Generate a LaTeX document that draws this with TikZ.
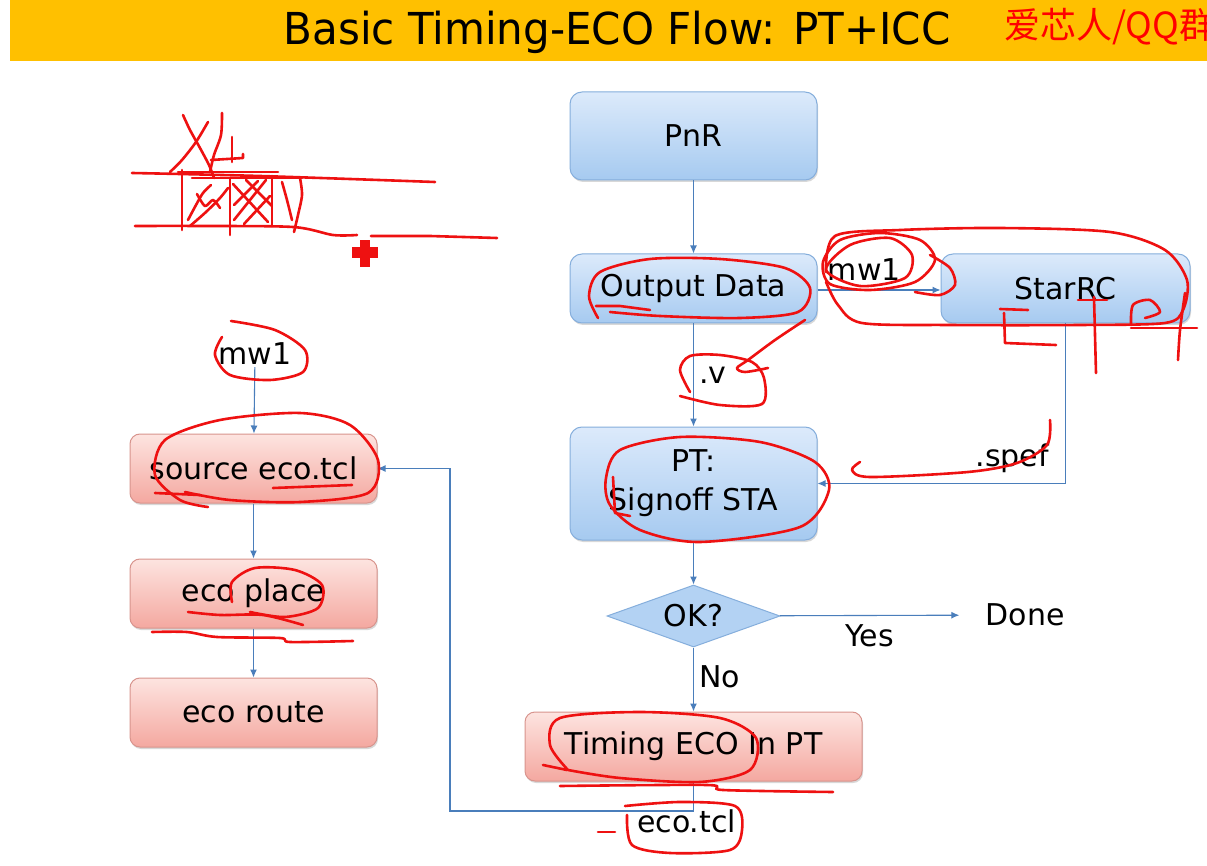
\documentclass[tikz,border=0pt]{standalone}
\usepackage{fontspec}
\setmainfont{DejaVu Sans}
\newfontfamily\cjkfont{Noto Sans CJK SC}
\usetikzlibrary{arrows.meta,shapes.geometric,shadows}
\definecolor{banner}{HTML}{FFC000}
\definecolor{flow}{HTML}{4A7EBB}
\definecolor{bluetop}{HTML}{DCEAFB}
\definecolor{bluebot}{HTML}{A6CAF0}
\definecolor{blueedge}{HTML}{85AEDC}
\definecolor{pinktop}{HTML}{FDE4E0}
\definecolor{pinkbot}{HTML}{F4A8A0}
\definecolor{pinkedge}{HTML}{D8948D}
\definecolor{ink}{HTML}{EE1111}
\begin{document}
\begin{tikzpicture}[x=1pt,y=-1pt,
  every node/.style={font=\fontsize{30}{34}\selectfont, text=black, inner sep=2pt},
  bluebox/.style={draw=blueedge, line width=1pt, rounded corners=12pt,
    top color=bluetop, bottom color=bluebot, minimum width=247pt, inner sep=0pt,
    align=center, drop shadow={shadow xshift=1pt, shadow yshift=-2pt, opacity=0.3}},
  pinkbox/.style={draw=pinkedge, line width=1pt, rounded corners=10pt,
    top color=pinktop, bottom color=pinkbot, minimum width=247pt, minimum height=69pt,
    inner sep=0pt, drop shadow={shadow xshift=1pt, shadow yshift=-2pt, opacity=0.3}},
  decision/.style={diamond, draw=blueedge, line width=1pt, fill=bluebot!75!bluetop,
    minimum width=173pt, minimum height=62pt, aspect=2.8, inner sep=0pt},
  flowline/.style={draw=flow, line width=1.1pt, -{Latex[length=8pt,width=7pt]}},
  scrib/.style={draw=ink, line width=2.6pt, line cap=round, line join=round}
]
\useasboundingbox (0,0) rectangle (1207,866);
\fill[white] (0,0) rectangle (1207,866);
% banner
\fill[banner] (10,0) rectangle (1207,61);
\node (title) at (617,32) {\fontsize{44}{48}\selectfont\scalebox{0.955}[1]{Basic Timing-ECO Flow: PT+ICC}};
\node[anchor=west, text=red, inner sep=0pt] (cn) at (1004,27) {\fontsize{36}{40}\selectfont\cjkfont 爱芯人/QQ群};

% right column
\node[bluebox, minimum height=88pt] (pnr) at (693.5,136) {PnR};
\node[bluebox, minimum height=69pt] (out) at (693.5,288.5) {Output Data};
\node[bluebox, minimum height=69pt, minimum width=249pt] (starrc) at (1065.5,288.5) {StarRC};
\node[bluebox, minimum height=113pt, font=\fontsize{30}{39}\selectfont] (pt) at (693.5,483.5) {PT:\\Signoff STA};
\node[decision] (ok) at (693.5,616) {OK?};
\node[inner xsep=26pt] (done) at (1025,615) {Done};
\node[pinkbox, minimum width=337pt] (teco) at (693.5,746.5) {Timing ECO In PT};

% left column
\node (mwl) at (255,354) {mw1};
\node[pinkbox] (src) at (253.5,468.5) {source eco.tcl};
\node[pinkbox] (place) at (253.5,593.5) {eco place};
\node[pinkbox] (route) at (253.5,712.5) {eco route};
\coordinate (loop) at (450,811);

% connectors
\draw[flowline] (pnr) -- (out);
\draw[flowline] (out) -- node[right=3pt, pos=0.5] {.v} (pt);
\draw[flowline] (out.east |- 0,290) -- node[above=7pt, pos=0.38] {mw1} (starrc.west |- 0,290);
\draw[flowline] (starrc.south) |- node[pos=0.42, left=14pt] {.spef} (pt.east);
\draw[flowline] (pt) -- (ok);
\draw[flowline] (ok) -- node[below=7pt, pos=0.5] {Yes} (done);
\draw[flowline] (ok) -- node[right=3pt, pos=0.45] {No} (teco);
\draw[flowline] (teco.south) |- node[pos=0.5, xshift=-7pt, yshift=-10pt] {eco.tcl} (loop) |- (src.east);
\draw[flowline] (mwl) -- (src);
\draw[flowline] (src) -- (place);
\draw[flowline] (place) -- (route);

% ---------- hand-drawn red annotations ----------
% top-left sketch
\draw[scrib] plot[smooth] coordinates {(132,173)(180,174)(260,176)(350,179)(435,182)};
\draw[scrib] plot[smooth] coordinates {(135,226)(200,226)(293,227)(333,235)(357,235)};
\draw[scrib] (371,236) -- (430,236) -- (497,238);
\draw[scrib] (182,170) -- (182,230);
\draw[scrib] (178,172) -- (278,172);
\draw[scrib] (192,178) -- (302,178);
\draw[scrib] (230,178) -- (230,235);
\draw[scrib] (272,176) -- (272,226);
\draw[scrib] plot[smooth] coordinates {(300,178)(302,195)(298,215)(294,232)};
\draw[scrib] plot[smooth] coordinates {(282,182)(287,200)(292,220)};
\draw[scrib] (233,184) -- (268,222);
\draw[scrib] (266,180) -- (234,220);
\draw[scrib] (246,180) -- (272,206);
\draw[scrib] (234,205) -- (258,181);
\draw[scrib] (244,224) -- (270,196);
\draw[scrib] plot[smooth] coordinates {(188,220)(196,205)(203,193)(211,185)};
\draw[scrib] plot[smooth] coordinates {(190,226)(206,212)(220,198)(228,188)};
\draw[scrib] plot[smooth] coordinates {(197,194)(205,206)(213,200)(220,208)};
\draw[scrib] (192,226) -- (272,226);
\draw[scrib] plot[smooth] coordinates {(183,115)(190,130)(200,148)(209,165)(214,178)};
\draw[scrib] plot[smooth] coordinates {(208,122)(196,142)(182,160)(170,172)};
\draw[scrib] plot[smooth] coordinates {(222,113)(221,135)(214,155)(210,172)};
\draw[scrib] (232,137) -- (232,162);
\draw[scrib] (211,160) -- (243,158) -- (243,154);
\fill[ink] (352,247) rectangle (378,258);
\fill[ink] (360,240) rectangle (370,267);

% Output Data
\draw[scrib] plot[smooth] coordinates {(598,318)(589,296)(600,272)(650,259)(720,259)(785,268)(810,288)(798,312)(740,318)(660,316)(610,312)};
\draw[scrib] (596,306) -- (620,306) -- (650,310);
% mw1 loops and StarRC loop
\draw[scrib] plot[smooth cycle] coordinates {(823,262)(840,240)(880,233)(920,240)(935,260)(915,282)(870,290)(830,284)};
\draw[scrib] plot[smooth cycle] coordinates {(826,270)(850,245)(890,238)(912,255)(905,278)(860,286)};
\draw[scrib] plot[smooth] coordinates {(930,255)(950,268)(955,285)(940,295)(915,292)};
\draw[scrib] plot[smooth] coordinates {(826,272)(835,236)(900,230)(1000,228)(1110,232)(1165,250)(1187,280)(1183,310)(1165,323)(1080,325)(950,325)(862,323)(838,305)(826,282)};
\draw[scrib] (1000,309) -- (1028,310);
\draw[scrib] (1004,313) -- (1005,343) -- (1056,345);
\draw[scrib] (1078,300) -- (1107,300);
\draw[scrib] (1094,297) -- (1096,373);
\draw[scrib] plot[smooth] coordinates {(1131,325)(1133,305)(1150,300)(1160,312)(1145,318)};
\draw[scrib] (1131,328) -- (1197,328);
\draw[scrib] plot[smooth] coordinates {(1185,293)(1180,330)(1178,360)};
% .v box
\draw[scrib] plot[smooth] coordinates {(690,392)(680,370)(690,356)(720,355)(752,362)(764,378)(762,404)(720,405)(680,396)};
\draw[scrib] plot[smooth] coordinates {(805,320)(775,340)(748,360)(737,368)(745,372)(768,368)};
% PT ellipse
\draw[scrib] plot[smooth cycle] coordinates {(606,478)(620,450)(680,437)(760,442)(815,462)(829,490)(800,527)(700,542)(640,530)(610,505)};
\draw[scrib] (613,477) -- (615,513) -- (630,516);
% .spef swoosh
\draw[scrib] plot[smooth] coordinates {(860,462)(852,470)(870,477)(968,472)(1017,463)(1047,445)(1050,420)};
% left mw1
\draw[scrib] plot[smooth] coordinates {(231,321)(275,330)(305,350)(303,372)(270,380)(230,375)(215,355)(222,337)};
% source eco.tcl
\draw[scrib] plot[smooth] coordinates {(208,507)(180,500)(155,475)(165,440)(220,420)(300,413)(350,425)(378,460)(368,493)(300,502)(230,500)(185,492)};
\draw[scrib] (155,493) -- (200,495);
\draw[scrib] (273,488) -- (352,485);
% eco place
\draw[scrib] plot[smooth] coordinates {(232,602)(232,582)(255,568)(295,570)(322,585)(318,608)(285,617)(250,612)};
\draw[scrib] plot[smooth] coordinates {(188,612)(220,615)(263,615)(303,625)};
\draw[scrib] plot[smooth] coordinates {(152,632)(187,632)(217,637)(280,638)(290,642)(353,641)};
% Timing ECO
\draw[scrib] plot[smooth] coordinates {(568,770)(550,745)(560,718)(640,712)(720,718)(756,738)(750,770)(700,782)(620,778)(568,770)};
\draw[scrib] (543,765) -- (567,770);
\draw[scrib] plot[smooth] coordinates {(560,786)(707,785)(723,790)(833,792)};
% eco.tcl
\draw[scrib] plot[smooth] coordinates {(625,806)(680,802)(735,806)(742,830)(730,850)(670,853)(632,845)(627,815)};
\draw[scrib] (598,832) -- (615,832);
\end{tikzpicture}
\end{document}
